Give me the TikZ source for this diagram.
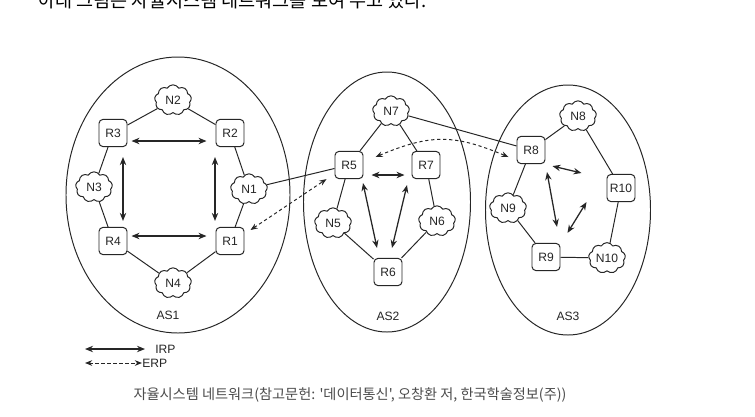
\documentclass[tikz,border=0pt]{standalone}
\usepackage{fontspec}
\setmainfont{Liberation Sans}
\newfontfamily\krfont{Noto Sans CJK KR}
\usepackage{tikz}
\usetikzlibrary{shapes,shapes.symbols,positioning,calc,arrows.meta}

\begin{document}
\begin{tikzpicture}[
        x=0.25mm, y=-0.25mm, every node/.style={font=\fontsize{8.6}{10}\selectfont, text=black!85},
        as/.style={ellipse, draw=black!85, line width=0.7pt, inner sep=0pt},
        router/.style={rectangle, draw=black!85, line width=0.7pt, rounded corners=1mm, minimum width=7mm, minimum height=6.8mm, inner sep=0pt, fill=white},
        net/.style={cloud, draw=black!85, line width=0.7pt, cloud puffs=9, cloud puff arc=120, aspect=1.2, minimum width=9.2mm, minimum height=7.6mm, inner sep=0pt, fill=white},
        link/.style={draw=black!85, line width=0.7pt},
        irp/.style={{Stealth[length=2mm,width=1.6mm]}-{Stealth[length=2mm,width=1.6mm]}, draw=black!85, line width=0.9pt},
        erp/.style={{Stealth[length=1.8mm,width=1.4mm]}-{Stealth[length=1.8mm,width=1.4mm]}, draw=black!85, line width=0.7pt, dash pattern=on 0.8mm off 0.7mm}
        ]
        \useasboundingbox[fill=white] (0,0) rectangle (755,416);

        \node[anchor=base west, inner sep=0pt, font=\krfont\fontsize{13.2}{15}\selectfont, text=black] (intro) at (38,7.5) {아래 그림은 자율시스템 네트워크를 보여 주고 있다.};

        \node[as, minimum width=56mm, minimum height=69mm] (as1) at (178,195) {};
        \node[as, minimum width=41.75mm, minimum height=65mm] (as2) at (387,202) {};
        \node[as, minimum width=41.25mm, minimum height=62.5mm] (as3) at (568,210) {};

        \node[router] (r1) at (230,241) {R1};
        \node[router] (r2) at (230,133) {R2};
        \node[router] (r3) at (113,133) {R3};
        \node[router] (r4) at (113,241) {R4};
        \node[net] (n1) at (249,189) {N1};
        \node[net] (n2) at (173,100) {N2};
        \node[net] (n3) at (94,187) {N3};
        \node[net] (n4) at (173,283) {N4};
        \node (as1lbl) at (168,315) {AS1};

        \node[router] (r5) at (349,165) {R5};
        \node[router] (r6) at (388,272) {R6};
        \node[router] (r7) at (426,165) {R7};
        \node[net] (n5) at (333,223) {N5};
        \node[net] (n6) at (437,221) {N6};
        \node[net] (n7) at (391,111) {N7};
        \node (as2lbl) at (388,316) {AS2};

        \node[router] (r8) at (531,150) {R8};
        \node[router] (r9) at (546,257) {R9};
        \node[router] (r10) at (621,188) {R10};
        \node[net] (n8) at (578,116) {N8};
        \node[net] (n9) at (508,208) {N9};
        \node[net] (n10) at (607,258) {N10};
        \node (as3lbl) at (568,316) {AS3};

        \draw[link] (n2) -- (r3);
        \draw[link] (n2) -- (r2);
        \draw[link] (r3) -- (n3);
        \draw[link] (n3) -- (r4);
        \draw[link] (r4) -- (n4);
        \draw[link] (n4) -- (r1);
        \draw[link] (r2) -- (n1);
        \draw[link] (n1) -- (r1);

        \draw[link] (n7) -- (r5);
        \draw[link] (n7) -- (r7);
        \draw[link] (r5) -- (n5);
        \draw[link] (n5) -- (r6);
        \draw[link] (r7) -- (n6);
        \draw[link] (n6) -- (r6);

        \draw[link] (n8) -- (r8);
        \draw[link] (n8) -- (r10);
        \draw[link] (r8) -- (n9);
        \draw[link] (n9) -- (r9);
        \draw[link] (r9) -- (n10);
        \draw[link] (n10) -- (r10);

        \draw[link] (n1) -- (r5);
        \draw[link] (n7) -- (r8);

        \draw[irp] ([shift={(4,8)}]r3.east) -- ([shift={(-9,8)}]r2.west);
        \draw[irp] ([shift={(4,-5)}]r4.east) -- ([shift={(-9,-5)}]r1.west);
        \draw[irp] ([shift={(10,10)}]r3.south) -- ([shift={(10,-6)}]r4.north);
        \draw[irp] ([shift={(-15,10)}]r2.south) -- ([shift={(-15,-6)}]r1.north);

        \draw[irp] ([shift={(8,10)}]r5.east) -- ([shift={(-7,10)}]r7.west);
        \draw[irp] ([shift={(14,4)}]r5.south) -- ([shift={(-11,-10)}]r6.north);
        \draw[irp] ([shift={(-19,6)}]r7.south) -- ([shift={(4,-10)}]r6.north);

        \draw[irp] ([shift={(7,2)}]r8.south east) -- ([shift={(-25,-15)}]r10.west);
        \draw[irp] ([shift={(16,8)}]r8.south) -- ([shift={(11,-16)}]r9.north);
        \draw[irp] ([shift={(7,-10)}]r9.north east) -- ([shift={(-20,0)}]r10.south west);

        \draw[erp] ([shift={(6,-11)}]r1.east) -- ([shift={(-8,0)}]r5.south west);
        \draw[erp] ([shift={(12,-8)}]r5.east) .. controls +(55,-23) and +(-55,-23) .. ([shift={(-8,7)}]r8.west);

        \coordinate (irpa) at (85,349);
        \coordinate (irpb) at (145,349);
        \coordinate (erpa) at (85,363);
        \coordinate (erpb) at (142,363);
        \draw[irp] (irpa) -- (irpb);
        \draw[erp] (erpa) -- (erpb);
        \node[anchor=west, inner sep=0pt] (irplbl) at (155,349) {IRP};
        \node[anchor=west, inner sep=0pt] (erplbl) at (142,363) {ERP};

        \node[font=\krfont\fontsize{10.1}{12}\selectfont, text=black!70] (caption) at (350,395) {자율시스템 네트워크(참고문헌: '데이터통신', 오창환 저, 한국학술정보(주))};

    \end{tikzpicture}
\end{document}
